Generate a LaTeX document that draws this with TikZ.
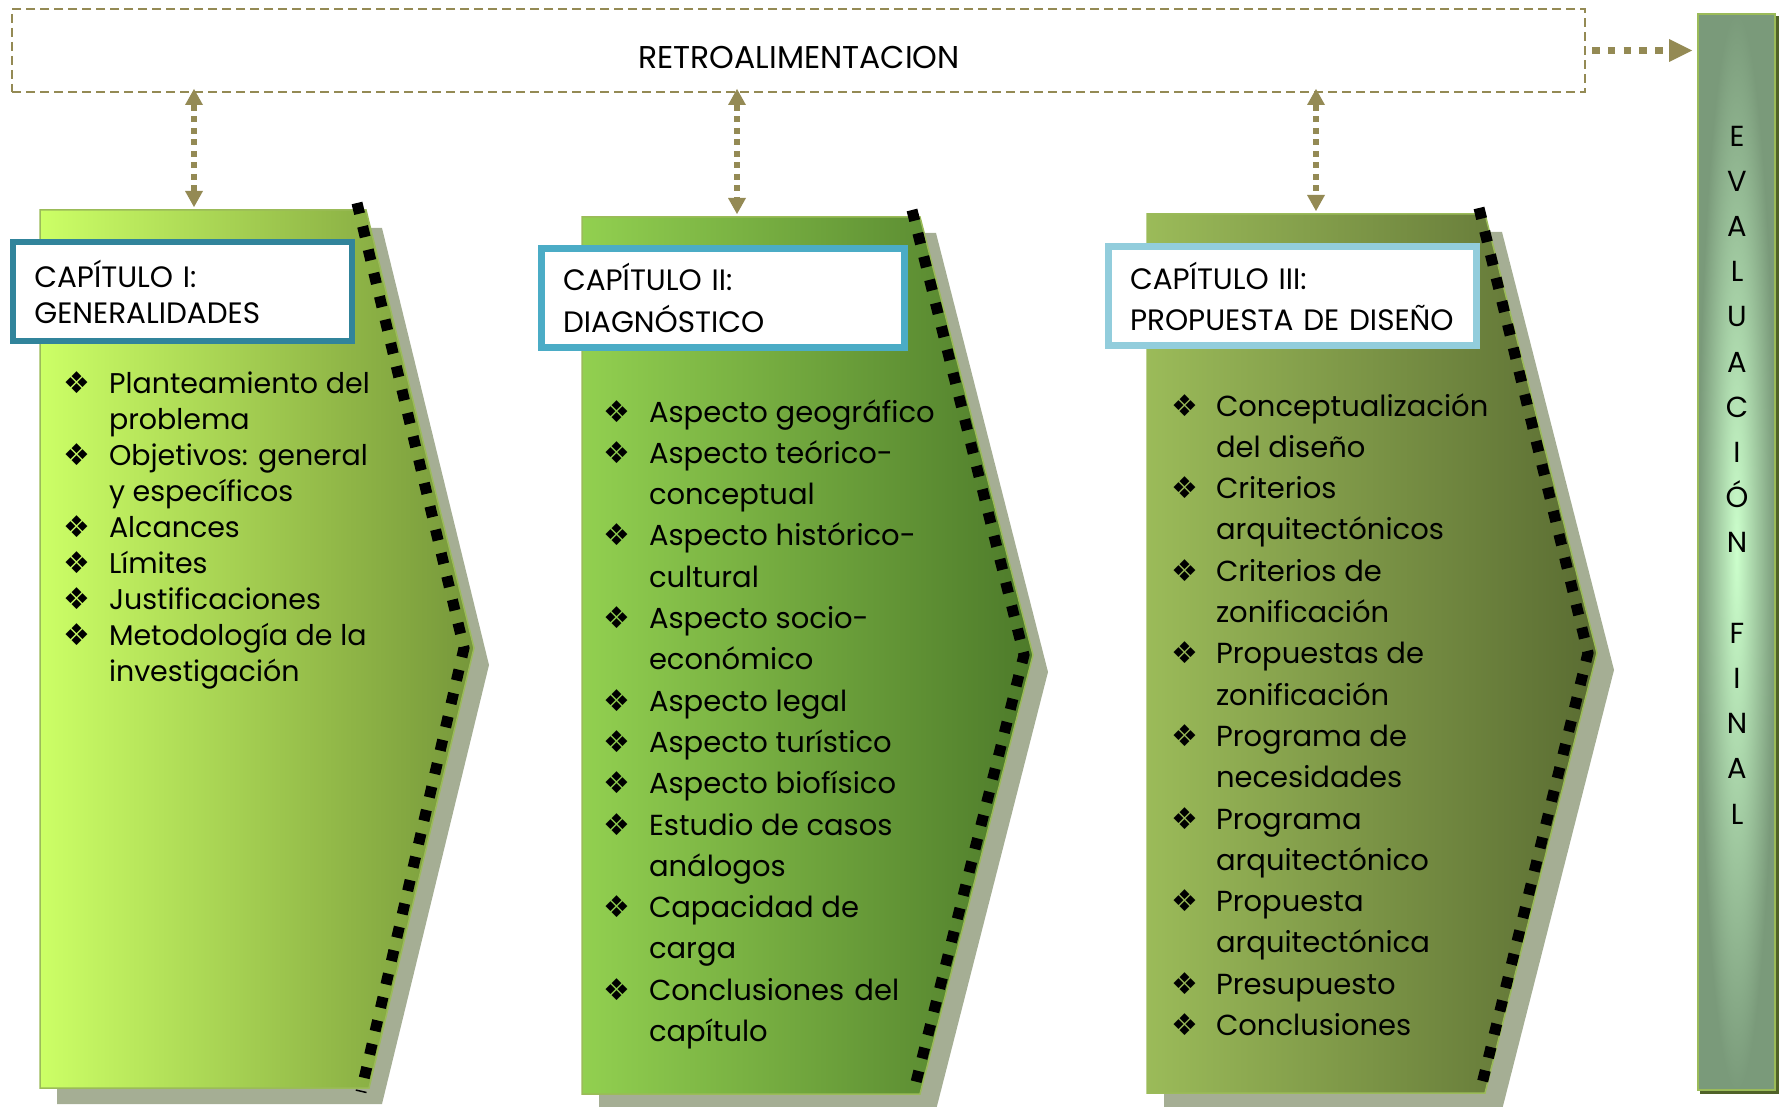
\documentclass[tikz,border=0pt]{standalone}
\usepackage{fontspec}
\setmainfont{Poppins}
\newfontfamily\symfont{DejaVu Sans}
\usetikzlibrary{positioning,arrows.meta}

\definecolor{retroline}{HTML}{948A54}
\definecolor{chapshadow}{HTML}{A5AE94}
\definecolor{edgegreen}{HTML}{9BBB59}
\definecolor{capIa}{HTML}{CCFF66}
\definecolor{capIm}{HTML}{BDE35C}
\definecolor{capIb}{HTML}{76973A}
\definecolor{capIIa}{HTML}{92D050}
\definecolor{capIIm}{HTML}{7DB446}
\definecolor{capIIb}{HTML}{4D7A2A}
\definecolor{capIIIa}{HTML}{9BBB59}
\definecolor{capIIIm}{HTML}{86A04C}
\definecolor{capIIIb}{HTML}{5A6C32}
\definecolor{titleI}{HTML}{31849B}
\definecolor{titleII}{HTML}{4BACC6}
\definecolor{titleIII}{HTML}{92CDDC}
\definecolor{evalouter}{HTML}{7A9A7A}
\definecolor{evalinner}{HTML}{CCFFCC}
\definecolor{evalshadow}{HTML}{4F6228}

\newcommand{\listfont}{\fontsize{29}{41.3}\selectfont}
\newcommand{\listIfont}{\fontsize{28.5}{36.1}\selectfont}
\newcommand{\bul}{{\symfont\fontsize{30}{30}\selectfont ❖}}

\begin{document}
\begin{tikzpicture}[x=1pt, y=-1pt,
    every node/.style={inner sep=0pt, outer sep=0pt},
    retrobox/.style={draw=retroline, line width=2.5pt, dash pattern=on 9pt off 5pt, minimum width=1573pt, minimum height=83pt},
    feedback/.style={draw=retroline, line width=6pt, dash pattern=on 6pt off 5.5pt,
      {Triangle[length=16pt,width=18pt,line width=0pt]}-{Triangle[length=16pt,width=18pt,line width=0pt]}},
    toeval/.style={draw=retroline, line width=7.5pt, dash pattern=on 7.5pt off 8.3pt,
      -{Triangle[length=23pt,width=23pt,line width=0pt]}},
    chapshade/.style={fill=chapshadow},
    chapedge/.style={draw=edgegreen, line width=1.5pt},
    dotsedge/.style={draw=black, line width=11pt, dash pattern=on 11pt off 13pt},
    titlebox/.style={draw, fill=white, line width=6.5pt, inner xsep=21.5pt, align=left, minimum height=99pt},
    itemlist/.style={anchor=base west, font=\listfont},
  ]
\useasboundingbox (0,0) rectangle (1783,1107);

% feedback box
\node[retrobox] (retro) at (798.5,50.5) {};
\node[font=\fontsize{31.5}{36}\selectfont, anchor=base] (retrotxt) at (799,69) {RETROALIMENTACION};

% final evaluation
\fill[evalshadow] (1700,16) rectangle (1779,1094);
\node[draw=edgegreen, line width=2.5pt, inner color=evalinner, outer color=evalouter,
  minimum width=77pt, minimum height=1076pt] (evalbar) at (1736.5,552) {};
\node[font=\fontsize{29}{45.2}\selectfont, align=center] (evaltxt) at (1737,475)
  {E\\V\\A\\L\\U\\A\\C\\I\\Ó\\N\\[45.2pt]F\\I\\N\\A\\L};
\draw[toeval, shorten <=7pt, shorten >=6pt] (retro.east) -- (retro.east -| evalbar.west);

% chapter I
\fill[chapshade] (57,228) -- (382,228) -- (489,665) -- (382,1104) -- (57,1104) -- cycle;
\draw[chapedge, left color=capIa, middle color=capIm, right color=capIb]
  (40,210) -- (366,210) -- (474,648) -- (369,1088) -- (40,1088) -- cycle;
\draw[dotsedge] (357,203) -- (464,648) -- (361,1092);
\coordinate (top1) at (194,210);
\node[titlebox, draw=titleI, text width=296pt, font=\fontsize{29.5}{36}\selectfont] (cap1) at (182.3,291.5)
  {CAPÍTULO I:\\GENERALIDADES};
\node[itemlist, font=\listIfont] (list1) at (63,393) {\begin{tabular}[t]{@{}p{46pt}@{}l@{}}
  \bul & Planteamiento del\\
       & problema\\
  \bul & Objetivos: general\\
       & y específicos\\
  \bul & Alcances\\
  \bul & Límites\\
  \bul & Justificaciones\\
  \bul & Metodología de la\\
       & investigación
\end{tabular}};

% chapter II
\fill[chapshade] (599,233) -- (936,233) -- (1048,672) -- (936,1110) -- (599,1110) -- cycle;
\draw[chapedge, left color=capIIa, middle color=capIIm, right color=capIIb]
  (582,217) -- (920,217) -- (1033,655) -- (920,1094) -- (582,1094) -- cycle;
\draw[dotsedge] (912,210) -- (1024,655) -- (913,1094);
\coordinate (top2) at (737,217);
\node[titlebox, draw=titleII, text width=320pt, font=\fontsize{29.5}{42}\selectfont] (cap2) at (723,298)
  {CAPÍTULO II:\\DIAGNÓSTICO};
\node[itemlist] (list2) at (603,422) {\begin{tabular}[t]{@{}p{46pt}@{}l@{}}
  \bul & Aspecto geográfico\\
  \bul & Aspecto teórico-\\
       & conceptual\\
  \bul & Aspecto histórico-\\
       & cultural\\
  \bul & Aspecto socio-\\
       & económico\\
  \bul & Aspecto legal\\
  \bul & Aspecto turístico\\
  \bul & Aspecto biofísico\\
  \bul & Estudio de casos\\
       & análogos\\
  \bul & Capacidad de\\
       & carga\\
  \bul & Conclusiones\hspace{0.35em}del\\
       & capítulo
\end{tabular}};

% chapter III
\fill[chapshade] (1164,232) -- (1502,232) -- (1614,670) -- (1502,1110) -- (1164,1110) -- cycle;
\draw[chapedge, left color=capIIIa, middle color=capIIIm, right color=capIIIb]
  (1147,214) -- (1485,214) -- (1597,653) -- (1485,1093) -- (1147,1093) -- cycle;
\draw[dotsedge] (1479,208) -- (1588,653) -- (1480,1092);
\coordinate (top3) at (1316,214);
\node[titlebox, draw=titleIII, text width=325pt, font=\fontsize{29.5}{41}\selectfont] (cap3) at (1292.5,296)
  {CAPÍTULO III:\\PROPUESTA DE DISEÑO};
\node[itemlist] (list3) at (1171,416) {\begin{tabular}[t]{@{}p{45pt}@{}l@{}}
  \bul & Conceptualización\\
       & del diseño\\
  \bul & Criterios\\
       & arquitectónicos\\
  \bul & Criterios de\\
       & zonificación\\
  \bul & Propuestas de\\
       & zonificación\\
  \bul & Programa de\\
       & necesidades\\
  \bul & Programa\\
       & arquitectónico\\
  \bul & Propuesta\\
       & arquitectónica\\
  \bul & Presupuesto\\
  \bul & Conclusiones
\end{tabular}};

% feedback links
\draw[feedback, shorten <=-3pt, shorten >=3pt] (retro.south -| top1) -- (top1);
\draw[feedback, shorten <=-3pt, shorten >=3pt] (retro.south -| top2) -- (top2);
\draw[feedback, shorten <=-3pt, shorten >=3pt] (retro.south -| top3) -- (top3);
\end{tikzpicture}
\end{document}
